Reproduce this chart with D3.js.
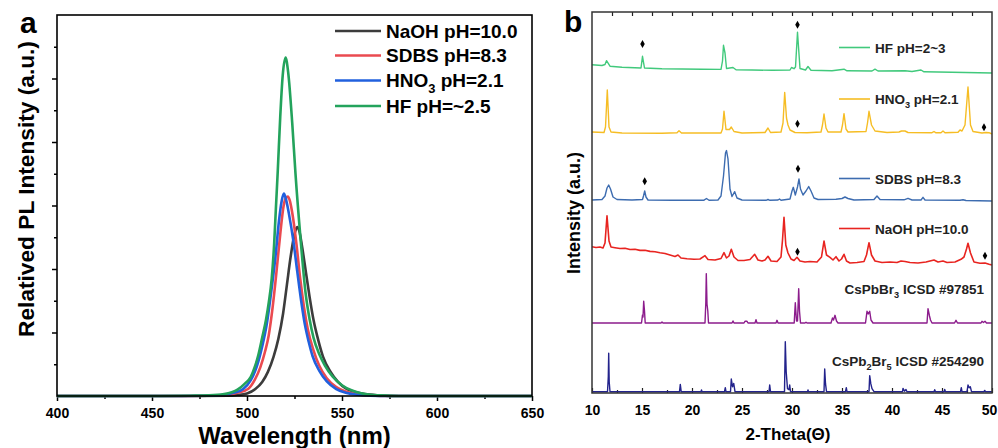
<!DOCTYPE html>
<html>
<head>
<meta charset="utf-8">
<script src="https://cdnjs.cloudflare.com/ajax/libs/d3/7.8.5/d3.min.js"></script>
<style>
body { margin: 0; background: #fff; }
svg { display: block; font-family: "Liberation Sans", Arial, sans-serif; font-weight: bold; }
</style>
</head>
<body>
<svg id="chart"></svg>
<script>
// ---- panel a : PL spectra, [wavelength nm, relative intensity] ----
var plNames = ['NaOH pH=10.0', 'SDBS pH=8.3', 'HNO_3 pH=2.1', 'HF pH=~2.5'];
var plColors = ['#3c3c3c', '#ea4a50', '#2160de', '#23a35c'];

var naohPL = [[400,0],[470,0],[490,0.005],[495,0.015],[500,0.04],[504.4,0.11],[508,0.22],[511,0.38],[514,0.62],[516.5,0.9],[519,1.3],[521,1.75],[523,2.2],[525,2.55],[526.4,2.66],[527.5,2.6],[529,2.35],[531,1.95],[533,1.55],[535,1.2],[537.5,0.88],[540,0.62],[544,0.38],[548,0.22],[552,0.12],[556,0.07],[562,0.03],[570,0.01],[580,0],[650,0]];
var sdbsPL = [[400,0],[460,0],[480,0.005],[490,0.02],[495,0.05],[500.5,0.11],[504,0.25],[507,0.45],[509.5,0.7],[511.4,0.95],[513.5,1.4],[515.5,1.95],[517.5,2.55],[519.3,3.0],[520.5,3.12],[521.5,3.14],[522.5,3.08],[524,2.85],[526,2.4],[528,1.85],[530,1.4],[532,1.05],[535,0.72],[538,0.48],[542,0.28],[547,0.14],[552,0.07],[558,0.03],[565,0.01],[575,0],[650,0]];
var hno3PL = [[400,0],[460,0],[480,0.005],[488,0.02],[493,0.05],[498,0.11],[502,0.25],[505,0.45],[508,0.78],[510.5,1.15],[513,1.7],[515,2.2],[516.8,2.75],[518.3,3.08],[519.4,3.19],[520.5,3.1],[522,2.88],[524.5,2.42],[526.5,1.95],[528.5,1.5],[530.5,1.12],[532.5,0.85],[534.5,0.63],[538,0.4],[542,0.23],[547,0.11],[552,0.05],[558,0.02],[565,0.005],[575,0],[650,0]];
var hfPL = [[400,0],[450,0],[470,0.005],[480,0.01],[488,0.03],[492,0.06],[495,0.1],[499,0.2],[502,0.3],[504,0.45],[506,0.65],[508,0.92],[510,1.2],[511.5,1.48],[513,1.85],[514.3,2.4],[515.2,2.95],[516.2,3.55],[517.5,4.4],[518.8,5.05],[520.3,5.33],[521.7,5.09],[523.8,4.3],[525.5,3.51],[528.2,2.47],[530.8,1.63],[533,1.2],[535,0.92],[538,0.66],[541,0.48],[545,0.31],[550,0.17],[555,0.09],[560,0.045],[565,0.02],[570,0.01],[580,0],[650,0]];
var wlTicks = [400, 450, 500, 550, 600, 650];

// ---- panel b : XRD patterns, [2-theta, intensity above own baseline] ----
var xrdNames = ['HF pH=2~3', 'HNO_3 pH=2.1', 'SDBS pH=8.3', 'NaOH pH=10.0', 'CsPbBr_3 ICSD #97851', 'CsPb_2Br_5 ICSD #254290'];
var xrdColors = ['#41c97c', '#f6bd24', '#3d6cb0', '#e82420', '#8c1c8c', '#23238c'];
var xrdOffsets = [320, 260, 192, 128, 70, 1.3];

var hfXRD = [[10,8.3],[11,7.5],[11.3,8.5],[11.45,12.3],[11.8,6.8],[13,5.7],[14.9,5],[15.05,16.7],[15.25,5],[17,4.3],[19,4],[21,3.7],[22.9,3.6],[23.05,12],[23.15,27.7],[23.3,20],[23.45,4.5],[24.1,5.5],[24.4,3.3],[26,3],[28,2.7],[29.8,3],[29.95,5.5],[30.2,4.3],[30.35,6],[30.55,40.7],[30.8,4.5],[31.35,3],[31.6,6.5],[31.9,2.7],[34,2.3],[35.2,3.8],[35.5,2.2],[38,2],[38.3,3.8],[38.6,2],[41.3,2.3],[42,1.5],[42.9,3],[43.2,1.2],[46,0.7],[50,0]];
var hno3XRD = [[10,1],[11.2,0.5],[11.35,6],[11.53,43],[11.7,6],[11.9,1],[13,0],[17,-0.3],[18.5,0.3],[18.7,2.3],[18.95,0],[22.9,0],[23.05,4],[23.2,21.7],[23.4,3.5],[23.75,3.5],[23.93,6],[24.2,1.5],[25,0],[27.3,0.5],[27.6,5],[27.85,0.5],[28.9,1],[29.1,10],[29.27,40.5],[29.45,15],[29.6,8],[29.8,3],[30.3,0.5],[31.5,0.2],[32.9,1],[33.05,8],[33.2,19],[33.4,5],[33.6,1],[34.9,1],[35.05,8],[35.2,19.3],[35.4,4],[35.6,1],[37.4,1.5],[37.55,10],[37.7,21.7],[37.95,8],[38.3,2],[39.5,0.5],[40.7,1],[40.95,2],[41.3,2],[41.6,0.5],[44,0.3],[44.2,1.5],[44.4,0.2],[44.9,0.3],[45.1,2],[45.3,0.3],[46.6,0.8],[46.8,3],[47,2],[47.3,8],[47.6,46],[47.85,8],[48.1,1.5],[49,0],[49.4,0.5],[49.7,0.3],[50,-1]];
var sdbsXRD = [[10,1],[11,1.5],[11.3,5],[11.5,13],[11.67,16],[11.85,12],[12.1,4],[12.5,1.5],[14,1],[15.05,1.5],[15.15,5],[15.27,10],[15.4,4],[15.6,1],[18,0.7],[21.2,0.8],[21.45,2.5],[21.7,0.7],[22.6,1],[22.9,5],[23.15,25],[23.35,48],[23.45,50.4],[23.6,42],[23.8,12],[24,4.5],[24.27,9.3],[24.5,3],[25,1],[27.4,0.7],[27.6,1.5],[27.8,0.7],[28.6,1],[28.75,2],[28.9,0.8],[29.8,2],[30,10],[30.13,13.7],[30.33,6],[30.55,14],[30.7,22],[30.85,12],[31.1,6],[31.4,10],[31.67,14.4],[31.9,10],[32.2,3],[32.6,1.5],[34.4,1.7],[35,2.5],[35.3,4],[35.6,2.5],[36.2,1],[38.2,1.5],[38.5,5],[38.8,1.5],[41.2,1.2],[41.6,2.7],[42,1],[42.9,1],[43.1,3.7],[43.3,1],[46.8,0.7],[47.1,1.3],[47.4,0.5],[50,0]];
var naohXRD = [[10,18.3],[10.4,17.5],[10.8,18],[11.1,17],[11.3,22],[11.5,49.3],[11.7,24],[11.9,18],[12.3,17.3],[12.8,16.5],[13.3,16.8],[13.8,15.5],[14.3,15.8],[14.8,14.6],[15.3,14.8],[15.8,13.6],[16.3,13.3],[16.8,12.2],[17.3,11.5],[17.8,10],[18.3,8.5],[18.6,10],[18.9,7],[19.5,6.2],[20.2,5.8],[20.8,6],[21.3,9.3],[21.6,5.5],[22.3,5],[22.9,6.5],[23.2,12.3],[23.45,7],[23.7,9],[23.93,15.7],[24.2,8],[24.6,4.5],[25.2,4.5],[25.8,5.5],[26.27,10.7],[26.6,5],[27,4],[27.3,5],[27.6,8.7],[27.9,4],[28.5,3.5],[28.9,8],[29.05,25],[29.2,47.7],[29.38,20],[29.6,12],[29.9,6],[30.2,4.5],[30.5,7.7],[30.8,4],[31.3,3],[31.8,3.5],[32.5,3],[32.95,8],[33.2,24],[33.45,10],[33.8,7.7],[34.1,5],[34.4,8.3],[34.7,4],[34.95,6],[35.2,10.7],[35.45,4],[35.8,2],[36.5,2.5],[37.2,3.5],[37.45,10],[37.7,22.3],[37.95,10],[38.3,4],[39,2.5],[39.8,3],[40.5,2.5],[40.9,4],[41.3,3.5],[41.8,2.5],[42.6,2],[43.4,3],[44.2,5],[44.6,3],[45.1,4],[45.5,2.5],[46.3,3],[46.9,5.7],[47.2,8],[47.45,16],[47.6,21.7],[47.85,12],[48.2,3],[48.8,1.7],[49.3,2],[49.7,0.8],[50,0]];
var cspbbr3XRD = [[10,0],[14.95,0],[15.05,8],[15.1,6],[15.17,21.7],[15.25,12],[15.32,0],[16.9,0],[17,1],[17.1,0],[21.3,0],[21.38,20],[21.43,49.4],[21.5,19],[21.58,12],[21.65,0],[24,0],[24.1,2],[24.2,0],[25.2,0],[25.3,1.7],[25.5,1.7],[25.6,0],[26.3,0],[26.4,3.3],[26.5,0],[28.4,0],[28.5,2.7],[28.6,0],[30.22,0],[30.33,20.3],[30.45,2],[30.55,2],[30.67,34.3],[30.75,12],[30.85,0],[31.3,0],[31.4,0.8],[31.5,0],[33.9,0],[34.05,5],[34.15,3],[34.3,7.7],[34.45,2],[34.6,0],[37.35,0],[37.5,11.7],[37.62,9],[37.77,11.7],[37.9,3],[38.1,0],[43.5,0],[43.6,14.3],[43.75,7],[43.85,3],[44,0],[46.25,0],[46.4,2.7],[46.55,0],[48.9,0],[49,1.7],[49.15,0.5],[49.3,1.7],[49.45,0],[50,0]];
var cspb2br5XRD = [[10,0],[11.55,0],[11.63,15],[11.67,38.4],[11.72,10],[11.8,0],[18.75,0],[18.83,7.3],[18.92,0],[20.9,0],[20.95,1.7],[21,0],[23.25,0],[23.33,4],[23.4,0],[23.85,0],[23.93,12.7],[24.05,5],[24.17,8.3],[24.3,0],[27.7,0],[27.77,6.7],[27.85,0],[29.25,0],[29.33,50],[29.42,20],[29.55,3],[29.7,2],[29.77,6.7],[29.85,0],[31.55,0],[31.6,1.7],[31.65,0],[33.2,0],[33.27,22.7],[33.35,8],[33.45,0],[35.35,0],[35.43,4],[35.5,0],[37.7,0],[37.77,16],[37.88,8],[38,3],[38.2,0],[41.05,0],[41.1,3.3],[41.25,0.5],[41.4,2.2],[41.5,0],[44.2,0],[44.27,2],[44.35,0],[45.2,0],[45.27,2.3],[45.35,0],[46.85,0],[46.93,4],[47,0],[47.5,0],[47.6,6.7],[47.72,4],[47.83,5],[47.95,0],[49.2,0],[49.27,1.3],[49.35,0],[50,0]];

// diamond marks (CsPbBr3 reflections) per pattern, [2-theta, height above baseline]
var xrdMarks = [
    [[15.05, 29], [30.55, 48.3]],
    [[30.55, 9.3], [49.2, 5.7]],
    [[15.27, 19.7], [30.6, 32.3]],
    [[30.55, 13.3], [49.3, 9.3]],
    [],
    []
];
var thetaTicks = [10, 15, 20, 25, 30, 35, 40, 45, 50];

var width = 998,
    height = 448;

var A = { LEFT: 57, RIGHT: 532, TOP: 15, BOTTOM: 396 };
var B = { LEFT: 592, RIGHT: 992, TOP: 12, BOTTOM: 393 };

var svg = d3.select('#chart')
    .attr('width', width)
    .attr('height', height);

svg.append('rect').attr('width', width).attr('height', height).attr('fill', '#fff');

// text with _N subscripts
function richText(sel, label, fs) {
    var parts = label.split(/_(\d)/);
    parts.forEach(function (p, i) {
        if (i % 2 === 1) {
            sel.append('tspan').attr('font-size', fs * 0.68).attr('dy', fs * 0.3).text(p);
        } else if (p.length) {
            sel.append('tspan').attr('dy', i > 0 ? -fs * 0.3 : 0).text(p);
        }
    });
}

// ================= panel a =================
var xA = d3.scaleLinear().domain([400, 650]).range([A.LEFT, A.RIGHT]);
var yA = d3.scaleLinear().domain([0, 6]).range([A.BOTTOM, A.TOP]);

var gA = svg.append('g').attr('class', 'panelA');

var xAxisA = d3.axisBottom(xA).tickValues(wlTicks).tickSize(5).tickPadding(7);
var xAxisAminor = d3.axisBottom(xA).tickValues(d3.range(425, 650, 50)).tickSize(3).tickFormat('');
var yAxisA = d3.axisLeft(yA).tickValues([1, 2, 3, 4, 5]).tickSize(5).tickFormat('');
var yAxisAminor = d3.axisLeft(yA).tickValues([0.5, 1.5, 2.5, 3.5, 4.5, 5.5]).tickSize(3).tickFormat('');

gA.append('g').attr('transform', 'translate(0,' + A.BOTTOM + ')').call(xAxisA)
    .style('font-size', '14px').style('font-family', '"Liberation Sans", Arial, sans-serif').style('font-weight', 'bold');
gA.append('g').attr('transform', 'translate(0,' + A.BOTTOM + ')').call(xAxisAminor);
gA.append('g').attr('transform', 'translate(' + A.LEFT + ',0)').call(yAxisA);
gA.append('g').attr('transform', 'translate(' + A.LEFT + ',0)').call(yAxisAminor);
gA.selectAll('.domain').remove();
gA.selectAll('.tick line').attr('stroke', '#000').attr('stroke-width', 1.5);
gA.selectAll('.tick text').attr('fill', '#000');

var lineA = d3.line()
    .x(function (d) { return xA(d[0]); })
    .y(function (d) { return yA(d[1]); })
    .curve(d3.curveMonotoneX);

var plSeries = [naohPL, sdbsPL, hno3PL, hfPL];
plSeries.forEach(function (s, i) {
    gA.append('path')
        .datum(s)
        .attr('d', lineA)
        .attr('fill', 'none')
        .attr('stroke', plColors[i])
        .attr('stroke-width', 2.6)
        .attr('stroke-linejoin', 'round');
});

gA.append('rect')
    .attr('x', A.LEFT).attr('y', A.TOP)
    .attr('width', A.RIGHT - A.LEFT).attr('height', A.BOTTOM - A.TOP)
    .attr('fill', 'none').attr('stroke', '#000').attr('stroke-width', 1.6);

// legend a
var legA = gA.selectAll('g.legA').data(plNames).enter().append('g').attr('class', 'legA')
    .attr('transform', function (d, i) { return 'translate(0,' + [31, 55.5, 80.5, 106][i] + ')'; });
legA.append('line')
    .attr('x1', 335).attr('x2', 381)
    .attr('stroke', function (d, i) { return plColors[i]; })
    .attr('stroke-width', 2.6);
legA.append('text')
    .attr('x', 386).attr('y', 6.5)
    .attr('font-size', 19)
    .attr('fill', '#000')
    .each(function (d) { richText(d3.select(this), d, 19); });

gA.append('text')
    .attr('transform', 'translate(34,189) rotate(-90)')
    .attr('text-anchor', 'middle')
    .attr('font-size', 22.7)
    .text('Relatived PL Intensity (a.u.)');
gA.append('text')
    .attr('x', (A.LEFT + A.RIGHT) / 2).attr('y', 444)
    .attr('text-anchor', 'middle')
    .attr('font-size', 24)
    .text('Wavelength (nm)');
gA.append('text').attr('x', 20).attr('y', 33).attr('font-size', 30).text('a');

// ================= panel b =================
var xB = d3.scaleLinear().domain([10, 50]).range([B.LEFT, B.RIGHT]);
var yB = d3.scaleLinear().domain([0, 381]).range([B.BOTTOM, B.TOP]);

var gB = svg.append('g').attr('class', 'panelB');

var xAxisB = d3.axisBottom(xB).tickValues(thetaTicks).tickSize(-5).tickPadding(12);
var xAxisBminor = d3.axisBottom(xB).tickValues(d3.range(12.5, 50, 5)).tickSize(-3).tickFormat('');
var xAxisBtop = d3.axisTop(xB).tickValues(d3.range(12, 50, 2)).tickSize(-4).tickFormat('');

gB.append('g').attr('transform', 'translate(0,' + B.BOTTOM + ')').call(xAxisB)
    .style('font-size', '14px').style('font-family', '"Liberation Sans", Arial, sans-serif').style('font-weight', 'bold');
gB.append('g').attr('transform', 'translate(0,' + B.BOTTOM + ')').call(xAxisBminor);
gB.append('g').attr('transform', 'translate(0,' + B.TOP + ')').call(xAxisBtop);
gB.selectAll('.domain').remove();
gB.selectAll('.tick line').attr('stroke', '#222').attr('stroke-width', 1.2);
gB.selectAll('.tick text').attr('fill', '#000')
    .attr('dx', function (d) { return d === 50 ? -3 : 0; });

var xrdSeries = [hfXRD, hno3XRD, sdbsXRD, naohXRD, cspbbr3XRD, cspb2br5XRD];
xrdSeries.forEach(function (s, i) {
    var off = xrdOffsets[i];
    var line = d3.line()
        .x(function (d) { return xB(d[0]); })
        .y(function (d) { return yB(d[1] + off); });
    gB.append('path')
        .datum(s)
        .attr('d', line)
        .attr('fill', 'none')
        .attr('stroke', xrdColors[i])
        .attr('stroke-width', i === 3 ? 1.6 : 1.4)
        .attr('stroke-linejoin', 'round');

    gB.selectAll(null).data(xrdMarks[i]).enter().append('path')
        .attr('d', d3.symbol(d3.symbolDiamond, 18))
        .attr('transform', function (d) { return 'translate(' + xB(d[0]) + ',' + yB(d[1] + off) + ')'; })
        .attr('fill', '#000');
});

gB.append('rect')
    .attr('x', B.LEFT).attr('y', B.TOP)
    .attr('width', B.RIGHT - B.LEFT).attr('height', B.BOTTOM - B.TOP)
    .attr('fill', 'none').attr('stroke', '#333').attr('stroke-width', 1.5);

// legend b
var legYB = [47.5, 99, 178.5, 228.5, 289, 361];
xrdNames.forEach(function (name, i) {
    var g = gB.append('g').attr('transform', 'translate(0,' + legYB[i] + ')');
    if (i < 4) {
        g.append('line').attr('x1', 839).attr('x2', 870)
            .attr('stroke', xrdColors[i]).attr('stroke-width', 1.6);
        g.append('text').attr('x', 875).attr('y', 5).attr('font-size', 13.5).attr('fill', '#222')
            .each(function () { richText(d3.select(this), name, 13.5); });
    } else {
        g.append('text').attr('x', 984).attr('y', 5).attr('font-size', 13.5).attr('fill', '#222')
            .attr('text-anchor', 'end')
            .each(function () { richText(d3.select(this), name, 13.5); });
    }
});

gB.append('text')
    .attr('transform', 'translate(580,213) rotate(-90)')
    .attr('text-anchor', 'middle')
    .attr('font-size', 18)
    .text('Intensity (a.u.)');
gB.append('text')
    .attr('x', (B.LEFT + B.RIGHT) / 2 - 4).attr('y', 440)
    .attr('text-anchor', 'middle')
    .attr('font-size', 17)
    .text('2-Theta(\u0398)');
gB.append('text').attr('x', 564).attr('y', 32).attr('font-size', 30).text('b');
</script>
</body>
</html>
